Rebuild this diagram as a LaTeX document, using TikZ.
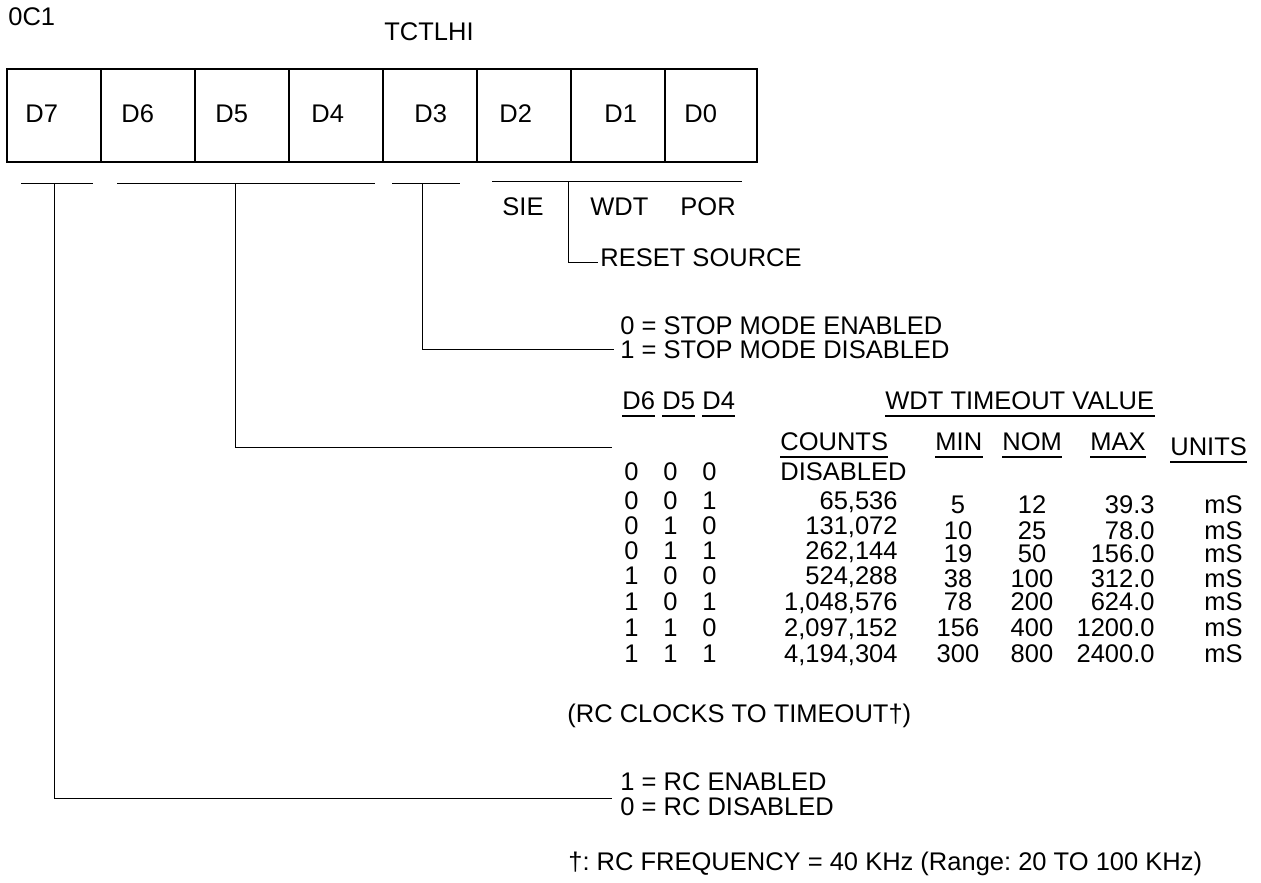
\documentclass[tikz,border=0pt]{standalone}
\usepackage{fontspec}
\setmainfont{Liberation Sans}
\usepackage{tikz}
\usetikzlibrary{positioning,calc}
\definecolor{ink}{HTML}{000000}
\tikzset{
  >=stealth,
  every node/.style={font=\fontsize{12.75}{14}\selectfont\frenchspacing, text=ink, inner sep=0pt},
  % --- nodes
  lbl/.style = {anchor=base west},
  num/.style = {anchor=base east},
  mid/.style = {anchor=base},
  % --- lines
  reg/.style = {draw=ink, line width=0.6pt},
  e/.style   = {draw=ink, line width=0.5pt},
  ul/.style  = {draw=ink, line width=1pt},
}
\begin{document}
\begin{tikzpicture}[x=0.5pt,y=-0.5pt]
  \useasboundingbox (0,0) rectangle (1261,882);
  % address and name
  \node[lbl] (addr) at (8,26) {0C1};
  \node[lbl] (regname) at (384,41) {TCTLHI};
  % eight bit cells
  \foreach \i/\xa/\xb/\lx in {7/7/101/25, 6/101/195/121, 5/195/289/215,
    4/289/383/311, 3/383/477/414, 2/477/571/499, 1/571/665/604, 0/665/757/684}
  {
    \draw[reg] (\xa,69) rectangle (\xb,162);
    \node[lbl] (d\i) at (\lx,123) {D\i};
  }
  % field brackets
  \coordinate (b7l) at (21,184);  \coordinate (b7r) at (93,184);  \coordinate (b7m) at (54,184);
  \coordinate (b6l) at (117,184); \coordinate (b6r) at (375,184); \coordinate (b6m) at (235,184);
  \coordinate (b3l) at (392,184); \coordinate (b3r) at (460,184); \coordinate (b3m) at (422,184);
  \coordinate (b2l) at (492,182); \coordinate (b2r) at (742,182); \coordinate (b2m) at (568,182);
  \foreach \b in {b7,b6,b3,b2}
    \draw[e] (\b l) -- (\b r);
  % reset source
  \node[lbl] (sie) at (502,215) {SIE};
  \node[lbl] (wdt) at (590,215) {WDT};
  \node[lbl] (por) at (680,215) {POR};
  \node[lbl] (reset) at (600,266) {RESET SOURCE};
  \draw[e] (b2m) |- ([xshift=-1pt,yshift=-2.5pt]reset.west);
  % stop mode
  \node[lbl] (stop0) at (620,334) {0 = STOP MODE ENABLED};
  \node[lbl] (stop1) at (620,358) {1 = STOP MODE DISABLED};
  \draw[e] (b3m) |- ([xshift=-3pt]stop1.west);
  % wdt timeout table
  \node[lbl] (h6) at (622,409) {D6};
  \node[lbl] (h5) at (662,409) {D5};
  \node[lbl] (h4) at (702,409) {D4};
  \node[lbl] (hwdt) at (885,409) {WDT TIMEOUT VALUE};
  \node[lbl] (hcnt) at (780,450) {COUNTS};
  \node[lbl] (hmin) at (935,450) {MIN};
  \node[lbl] (hnom) at (1002,450) {NOM};
  \node[lbl] (hmax) at (1090,450) {MAX};
  \node[lbl] (hunit) at (1170,455) {UNITS};
  \foreach \n in {h6,h5,h4,hwdt,hcnt,hmin,hnom,hmax,hunit}
    \draw[ul] ([yshift=-3.5pt]\n.base west) -- ([yshift=-3.5pt]\n.base east);
  \coordinate (wdtend) at (612,447);
  \draw[e] (b6m) |- (wdtend);
  \node[lbl] (bit0-6) at (624,480) {0};
  \node[lbl] (bit0-5) at (663,480) {0};
  \node[lbl] (bit0-4) at (702,480) {0};
  \node[lbl] (off) at (780,480) {DISABLED};
  \foreach \r/\ba/\bb/\bc/\cnt/\mn/\nm/\mx/\y/\dy in {
    1/0/0/1/{65,536}/5/12/39.3/509/4,
    2/0/1/0/{131,072}/10/25/78.0/534/5,
    3/0/1/1/{262,144}/19/50/156.0/559/3,
    4/1/0/0/{524,288}/38/100/312.0/584/3,
    5/1/0/1/{1,048,576}/78/200/624.0/610/0,
    6/1/1/0/{2,097,152}/156/400/1200.0/636/0,
    7/1/1/1/{4,194,304}/300/800/2400.0/662/0}
  {
    \node[lbl] (bit\r-6) at (624,\y) {\ba};
    \node[lbl] (bit\r-5) at (663,\y) {\bb};
    \node[lbl] (bit\r-4) at (702,\y) {\bc};
    \node[num] (cnt\r) at (898,\y) {\cnt};
    \node[mid] (min\r) at (958,{\y+\dy}) {\mn};
    \node[mid] (nom\r) at (1032,{\y+\dy}) {\nm};
    \node[num] (max\r) at (1155,{\y+\dy}) {\mx};
    \node[num] (unit\r) at (1243,{\y+\dy}) {mS};
  }
  \node[lbl] (rcclk) at (567,722) {(RC CLOCKS TO TIMEOUT†)};
  % rc enable
  \node[lbl] (rcon) at (620,790) {1 = RC ENABLED};
  \node[lbl] (rcoff) at (620,815) {0 = RC DISABLED};
  \draw[e] (b7m) |- ([xshift=-4pt,yshift=-4pt]rcon.base west);
  \node[lbl] (foot) at (568,870) {†: RC FREQUENCY = 40 KHz (Range: 20 TO 100 KHz)};
\end{tikzpicture}
\end{document}
